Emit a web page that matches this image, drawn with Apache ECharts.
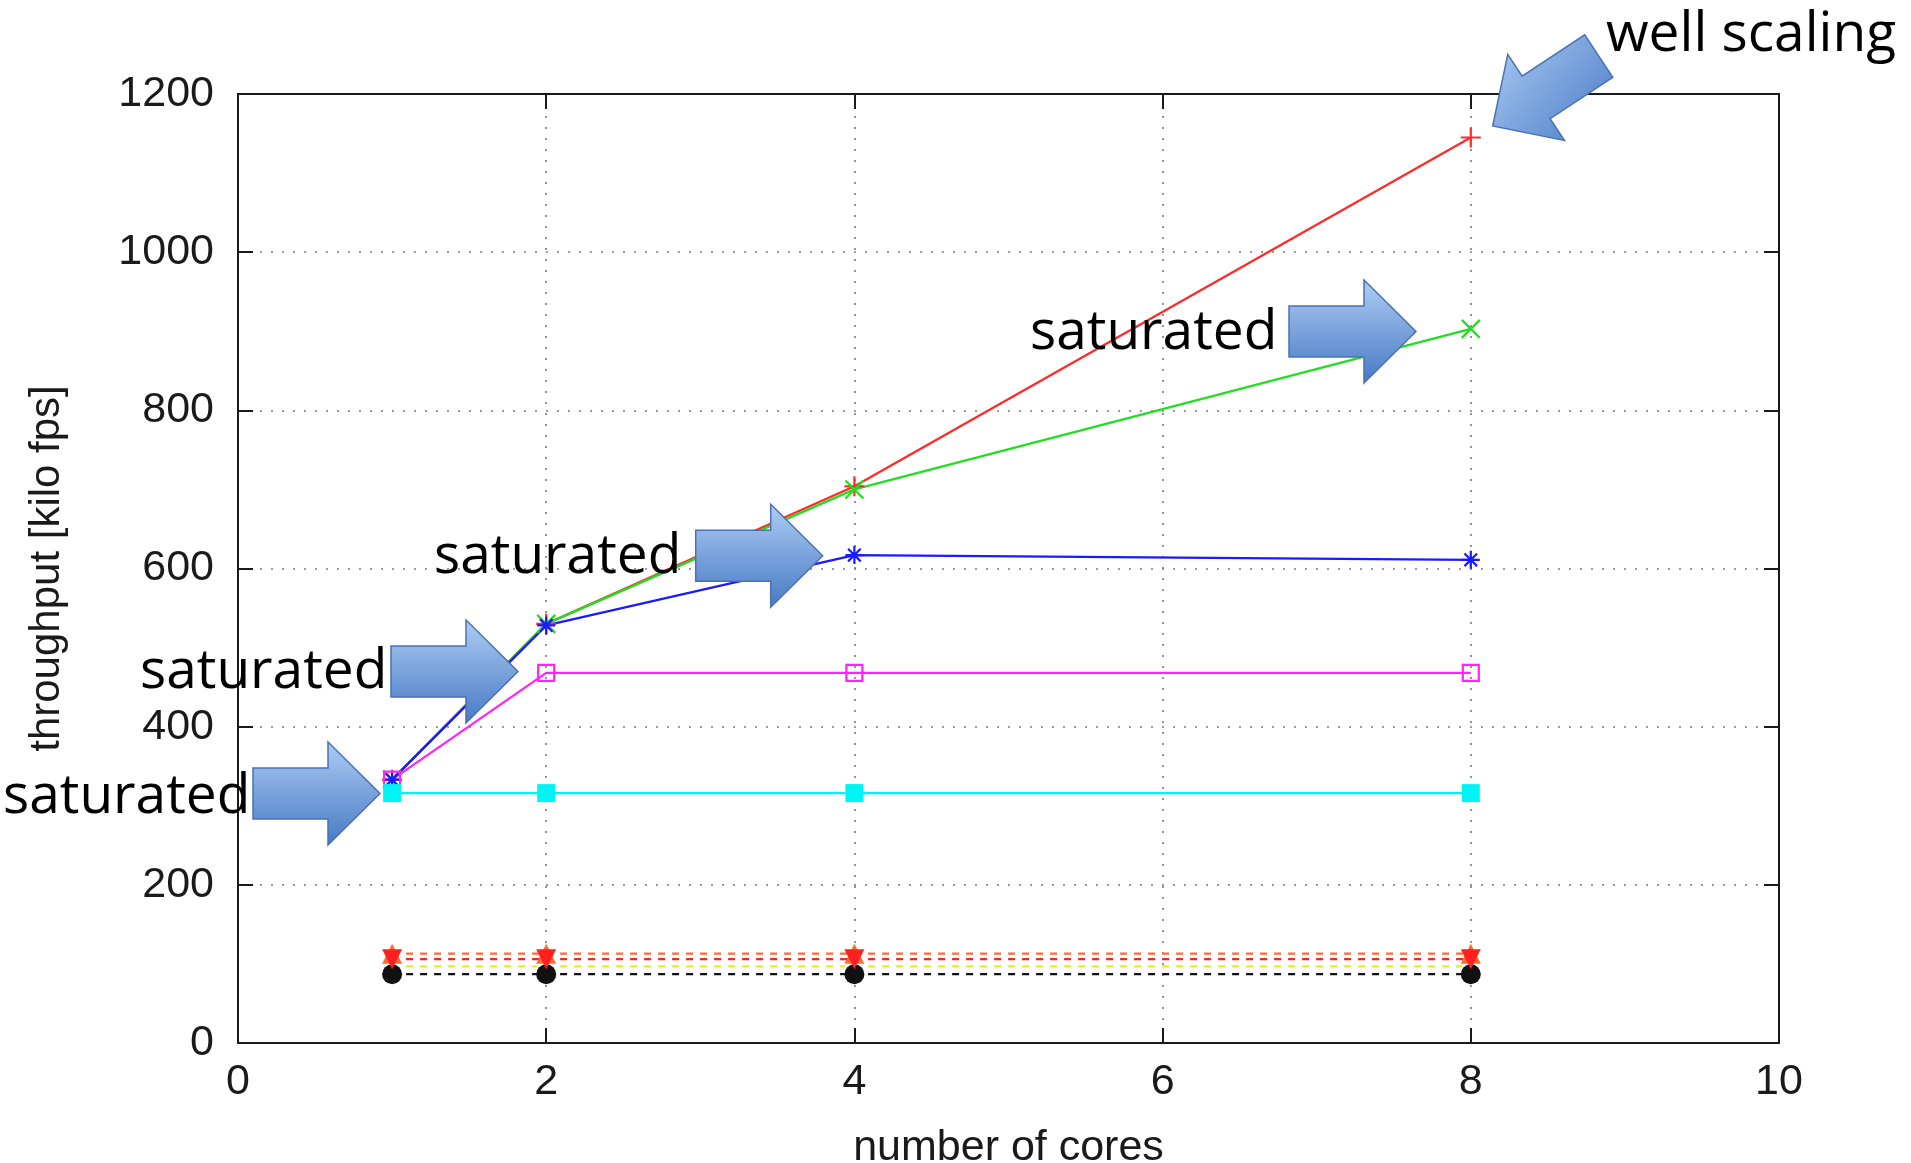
<!DOCTYPE html>
<html><head><meta charset="utf-8">
<script src="https://cdn.jsdelivr.net/npm/echarts@6/dist/echarts.min.js"></script>
<style>html,body{margin:0;padding:0;background:#fff}#c{width:1911px;height:1163px}</style>
</head><body><div id="c"></div>
<script>
// ---- data ----
const cores = [1, 2, 4, 8];
const redVals = [333, 530, 704, 1145];
const greenVals = [333, 530, 700, 903];
const blueVals = [333, 528, 617, 611];
const magentaVals = [333, 468, 468, 468];
const cyanVals = [316, 316, 316, 316];
const yellowVals = [97, 97, 97, 97];
const blackVals = [87, 87, 87, 87];
const orangeVals = [113, 113, 113, 113];
const red2Vals = [106, 106, 106, 106];
const xTicks = [0, 2, 4, 6, 8, 10];
const yTicks = [0, 200, 400, 600, 800, 1000, 1200];
const xName = 'number of cores';
const yName = 'throughput [kilo fps]';
const satText = 'saturated';
const wellText = 'well scaling';

const AX = '"Liberation Sans", Arial, sans-serif';
const ANN = '"Open Sans", sans-serif';

const PLUS = 'path://M5,0L5,10M0,5L10,5';
const CROSS = 'path://M0,0L10,10M10,0L0,10';
const STAR = 'path://M5,0L5,10M0,5L10,5M1.5,1.5L8.5,8.5M8.5,1.5L1.5,8.5';

function pts(vals) { return cores.map((c, i) => [c, vals[i]]); }
function mk(name, vals, color, symbol, size, opt) {
  opt = opt || {};
  return {
    name: name, type: 'line', data: pts(vals),
    symbol: symbol, symbolSize: size,
    lineStyle: { color: color, width: 2.3, type: opt.dash ? [7, 7] : 'solid' },
    itemStyle: {
      color: opt.fill !== undefined ? opt.fill : color,
      borderColor: color, borderWidth: opt.bw !== undefined ? opt.bw : 2.2
    },
    emphasis: { disabled: true },
    z: 3
  };
}

function arrow(tipX, tipY, deg, grad) {
  const L = 127, H = 52, sh = 25.5, hh = 51.5;
  const local = [[-L, -sh], [-H, -sh], [-H, -hh], [0, 0], [-H, hh], [-H, sh], [-L, sh]];
  const t = deg * Math.PI / 180, c = Math.cos(t), s = Math.sin(t);
  const points = local.map(p => [tipX + p[0] * c - p[1] * s, tipY + p[0] * s + p[1] * c]);
  return {
    type: 'polygon', z: 100,
    shape: { points: points },
    style: {
      fill: { type: 'linear', x: grad[0], y: grad[1], x2: grad[2], y2: grad[3],
        colorStops: [{ offset: 0, color: '#aecdf4' }, { offset: 1, color: '#4679c4' }] },
      stroke: '#4a72b2', lineWidth: 1.5
    }
  };
}
function label(text, x, baseY) {
  return {
    type: 'text', z: 101, x: x, y: baseY - 18,
    style: { text: text, font: '55px ' + ANN, fill: '#000', verticalAlign: 'middle', align: 'left' }
  };
}

const chart = echarts.init(document.getElementById('c'), null, { renderer: 'canvas' });
const gridLine = { show: true, lineStyle: { color: '#7a7a7a', width: 1.6, type: [2, 9] } };
const axLine = { show: true, onZero: false, lineStyle: { color: '#1a1a1a', width: 2 } };
const tick = { show: true, inside: true, length: 15, lineStyle: { color: '#1a1a1a', width: 2 } };
const plain = v => String(v);

chart.setOption({
  animation: false,
  backgroundColor: '#fff',
  grid: { left: 238, right: 132, top: 94, bottom: 120, containLabel: false, outerBoundsMode: 'none' },
  xAxis: [{
    type: 'value', min: xTicks[0], max: xTicks[xTicks.length - 1], interval: xTicks[1] - xTicks[0],
    name: xName, nameLocation: 'middle', nameGap: 84,
    nameTextStyle: { fontFamily: AX, fontSize: 43, color: '#1a1a1a' },
    axisLine: axLine, axisTick: tick, splitLine: gridLine,
    axisLabel: { fontFamily: AX, fontSize: 43, color: '#1a1a1a', margin: 18, formatter: plain }
  }, {
    type: 'value', position: 'top', min: xTicks[0], max: xTicks[xTicks.length - 1], interval: xTicks[1] - xTicks[0],
    axisLine: axLine, axisTick: tick, splitLine: { show: false }, axisLabel: { show: false }
  }],
  yAxis: [{
    type: 'value', min: yTicks[0], max: yTicks[yTicks.length - 1], interval: yTicks[1] - yTicks[0],
    name: yName, nameLocation: 'middle', nameGap: 170, nameRotate: 90,
    nameTextStyle: { fontFamily: AX, fontSize: 42, color: '#1a1a1a' },
    axisLine: axLine, axisTick: tick, splitLine: gridLine,
    axisLabel: { fontFamily: AX, fontSize: 43, color: '#1a1a1a', margin: 24, padding: [0, 0, 10, 0], formatter: plain }
  }, {
    type: 'value', position: 'right', min: yTicks[0], max: yTicks[yTicks.length - 1], interval: yTicks[1] - yTicks[0],
    axisLine: axLine, axisTick: tick, splitLine: { show: false }, axisLabel: { show: false }
  }],
  series: [
    mk('red', redVals, '#ff2a2a', PLUS, 20),
    mk('green', greenVals, '#22dd22', CROSS, 18),
    mk('blue', blueVals, '#1a1aff', STAR, 18),
    mk('magenta', magentaVals, '#ff22ff', 'rect', 16, { fill: 'rgba(255,255,255,0)' }),
    mk('cyan', cyanVals, '#00f4f4', 'rect', 18, { bw: 0 }),
    mk('yellow', yellowVals, '#eeee00', 'emptyCircle', 18, { dash: true, fill: 'rgba(255,255,255,0)' }),
    mk('black', blackVals, '#111111', 'circle', 20, { dash: true, bw: 0 }),
    mk('orange', orangeVals, '#ff6a33', 'triangle', 20, { dash: true, bw: 0 }),
    mk('red2', red2Vals, '#ff2020', 'path://M0,0L10,0L5,9Z', 20, { dash: true, bw: 0 })
  ],
  graphic: [
    arrow(380, 793.5, 0, [0, 0, 0, 1]),
    arrow(518, 671.5, 0, [0, 0, 0, 1]),
    arrow(822.7, 555.8, 0, [0, 0, 0, 1]),
    arrow(1416, 331.5, 0, [0, 0, 0, 1]),
    arrow(1492.7, 126, 146.6, [0, 0, 1, 1]),
    label(satText, 3, 815),
    label(satText, 140, 690),
    label(satText, 434, 575),
    label(satText, 1030, 351),
    label(wellText, 1606, 53)
  ]
});
</script>
</body></html>
